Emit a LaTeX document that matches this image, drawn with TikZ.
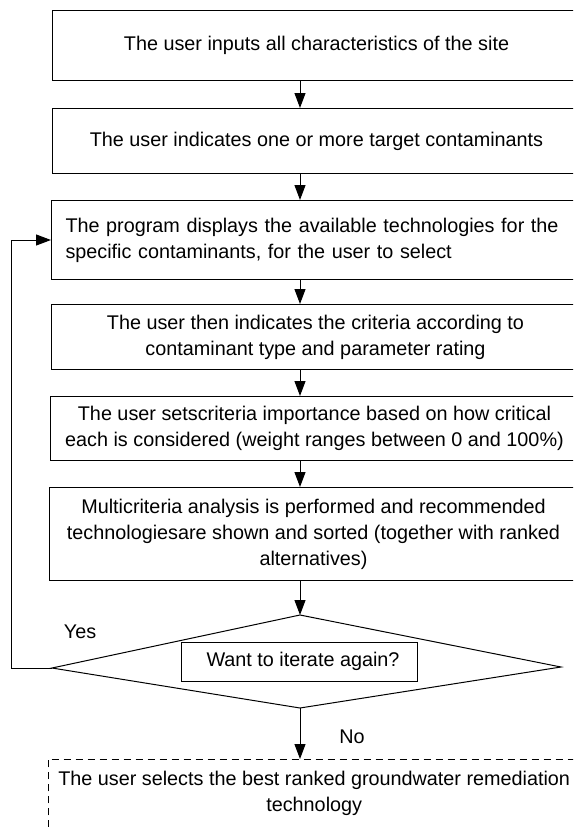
\documentclass[tikz,border=0pt]{standalone}
\usepackage{fontspec}
\setmainfont{Liberation Sans}
\usetikzlibrary{
    arrows.meta,
    calc
}
\tikzset {
    process box/.style = {draw, line width = 1pt, minimum width = 528pt, inner xsep = 14pt, align = center, anchor = north west},
    final box/.style = {minimum width = 532pt, minimum height = 68pt, inner xsep = 4pt, align = center, anchor = north west},
    flow arrow/.style = {line width = 1pt, -{Triangle[length = 15pt, width = 11pt]}},
    edge line/.style = {line width = 1pt},
    answer/.style = {inner sep = 0pt}
}

\begin{document}
\begin{tikzpicture}[x = 1pt, y = -1pt, font = \fontsize{19.8pt}{26pt}\selectfont]
    \path [use as bounding box, clip] (0, 0) rectangle (573, 827);
    \coordinate (axis) at (300, 0);
    %
    \node (inputs) [process box, minimum height = 70pt] at (52, 10)
        {The user inputs all characteristics of the site};
    \node (targets) [process box, minimum height = 65pt] at (52, 108)
        {The user indicates one or more target contaminants};
    \node (techs) [process box, minimum height = 79pt, text width = 500pt, align = left] at (51, 200)
        {The program displays the available technologies for the\\
         specific contaminants, for the user to select};
    \node (criteria) [process box, minimum height = 65pt] at (51, 304)
        {The user then indicates the criteria according to\\
         contaminant type and parameter rating};
    \node (weights) [process box, minimum height = 64pt] at (50, 396)
        {The user setscriteria importance based on how critical\\
         each is considered (weight ranges between 0 and 100\%)};
    \node (ranking) [process box, minimum height = 93pt] at (49, 487)
        {Multicriteria analysis is performed and recommended\\
         technologiesare shown and sorted (together with ranked\\
         alternatives)};
    %
    \coordinate (dtop) at (300, 615);
    \coordinate (dleft) at (52, 668);
    \coordinate (dright) at (561, 667);
    \coordinate (dbot) at (300, 708);
    \draw [edge line] (dtop) -- (dright) -- (dbot) -- (dleft) -- cycle;
    \node (ask) [draw, line width = 1pt, minimum width = 236pt, minimum height = 39pt] at (299, 661.5)
        {\hspace{8pt}Want to iterate again?};
    %
    \node (best) [final box] at (48, 759)
        {The user selects the best ranked groundwater remediation\\
         technology};
    \draw [edge line, dash pattern = on 7pt off 5pt]
        (best.south west) -- (best.north west) -- (best.north east) -- (best.south east);
    %
    \draw [flow arrow] (inputs.south -| axis) -- (targets.north -| axis);
    \draw [flow arrow] (targets.south -| axis) -- (techs.north -| axis);
    \draw [flow arrow] (techs.south -| axis) -- (criteria.north -| axis);
    \draw [flow arrow] (criteria.south -| axis) -- (weights.north -| axis);
    \draw [flow arrow] (weights.south -| axis) -- (ranking.north -| axis);
    \draw [flow arrow] (ranking.south -| axis) -- (dtop);
    \draw [flow arrow] (dbot) -- (best.north -| axis);
    %
    \coordinate (back) at (11, 668);
    \draw [flow arrow] (dleft) -- (back) |- (techs.west);
    \node (yes) [answer] at (80, 632) {Yes};
    \node (no) [answer] at (352, 737) {No};
\end{tikzpicture}
\end{document}
